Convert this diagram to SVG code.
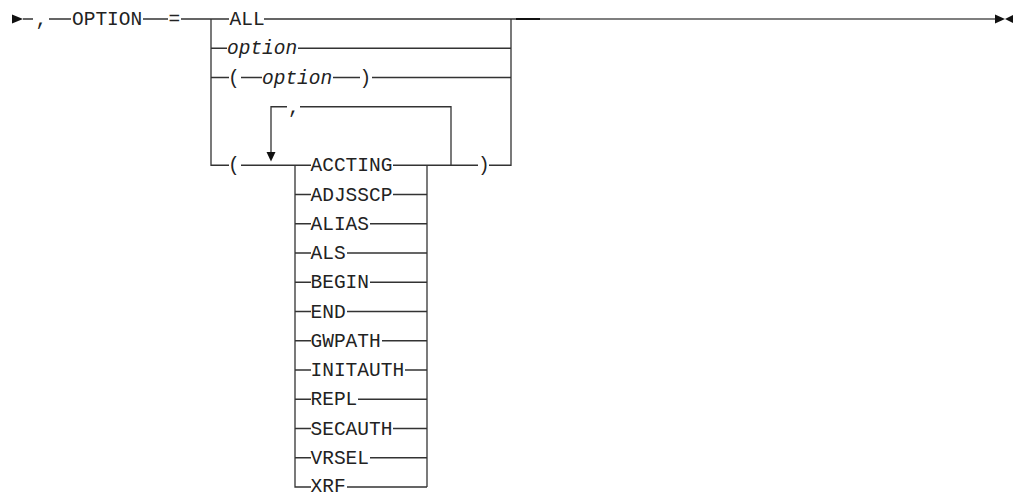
<svg xmlns="http://www.w3.org/2000/svg" width="1013" height="492" viewBox="0 0 1013 492">
<style>
.t{font-family:"Liberation Mono","DejaVu Sans Mono",monospace;font-size:19.5px;fill:#222}
.i{font-style:italic}
.l{fill:none;stroke:#333;stroke-width:1.3}
.g{fill:none;stroke:#555;stroke-width:1.4}
.a{fill:#111}
</style>
<rect width="1013" height="492" fill="#fff"/>
<g id="connectors">
<polygon class="a" points="12,14.5 23,19 12,23.5"/>
<path class="l" d="M23 19H33M49 19H71M143 19H168M181 19H229M264 19H516"/>
<path class="g" d="M540 19H995"/>
<path d="M516 19H540" stroke="#111" stroke-width="2" fill="none"/>
<polygon class="a" points="995,14.5 1005,19 995,23.5"/>
<polygon class="a" points="1013,15 1005,19 1013,23"/>
<path class="l" d="M211 19V165.25H229"/>
<path class="l" d="M511 19V165.25H489"/>
<path class="l" d="M211 48.25H227M298 48.25H511"/>
<path class="l" d="M211 77.5H229M241 77.5H262M333 77.5H360M372 77.5H511"/>
<path class="l" d="M241 165.25H311M393 165.25H478"/>
<path class="l" d="M271 152V106.75H287M300 106.75H451V165.25"/>
<polygon class="a" points="266.5,152 275.5,152 271,161.5"/>
<path class="l" d="M295 165.25V487H311M295 194.5H311M295 223.75H311M295 253H311M295 282.25H311M295 311.5H311M295 340.75H311M295 370H311M295 399.25H311M295 428.5H311M295 457.75H311"/>
<path class="l" d="M427 165.25V487"/>
<path class="l" d="M393 194.5H427M370 223.75H427M347 253H427M370 282.25H427M347 311.5H427M382 340.75H427M405 370H427M358 399.25H427M393 428.5H427M370 457.75H427M347 487H427"/>
</g>
<g id="start">
<text class="t" x="35.5" y="25">,</text>
<text class="t" x="72" y="25">OPTION</text>
<text class="t" x="168.5" y="25">=</text>
</g>
<g id="opt-all"><text class="t" x="229.5" y="25">ALL</text></g>
<g id="opt-option"><text class="t i" x="227" y="54.25">option</text></g>
<g id="opt-paren"><text class="t" x="228" y="83.5">(</text><text class="t i" x="262" y="83.5">option</text><text class="t" x="359.5" y="83.5">)</text></g>
<g id="opt-list">
<text class="t" x="228" y="171.25">(</text>
<text class="t" x="288" y="112.75">,</text>
<text class="t" x="478" y="171.25">)</text>
</g>
<g id="items">
<text class="t" x="310.5" y="171.25">ACCTING</text>
<text class="t" x="310.5" y="200.5">ADJSSCP</text>
<text class="t" x="310.5" y="229.75">ALIAS</text>
<text class="t" x="310.5" y="259">ALS</text>
<text class="t" x="310.5" y="288.25">BEGIN</text>
<text class="t" x="310.5" y="317.5">END</text>
<text class="t" x="310.5" y="346.75">GWPATH</text>
<text class="t" x="310.5" y="376">INITAUTH</text>
<text class="t" x="310.5" y="405.25">REPL</text>
<text class="t" x="310.5" y="434.5">SECAUTH</text>
<text class="t" x="310.5" y="463.75">VRSEL</text>
<text class="t" x="310.5" y="491.5">XRF</text>
</g>
</svg>
